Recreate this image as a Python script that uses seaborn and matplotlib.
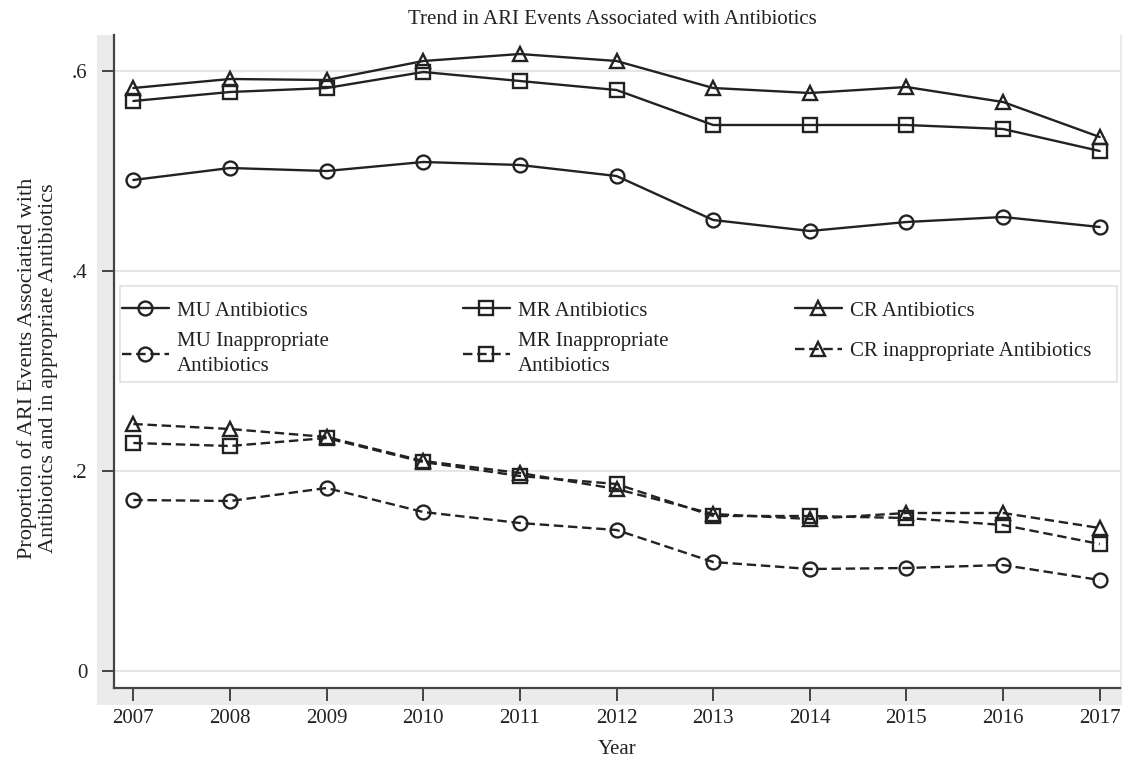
import matplotlib
matplotlib.use("Agg")
import matplotlib.pyplot as plt
from matplotlib.patches import Rectangle
from matplotlib.legend import Legend
from matplotlib.ticker import FixedLocator, FixedFormatter
import seaborn as sns
import pandas as pd

years = [2007, 2008, 2009, 2010, 2011, 2012, 2013, 2014, 2015, 2016, 2017]

mu_abx = [0.491, 0.503, 0.500, 0.509, 0.506, 0.495, 0.451, 0.440, 0.449, 0.454, 0.444]
mr_abx = [0.570, 0.579, 0.583, 0.599, 0.590, 0.581, 0.546, 0.546, 0.546, 0.542, 0.520]
cr_abx = [0.583, 0.592, 0.591, 0.610, 0.617, 0.610, 0.583, 0.578, 0.584, 0.569, 0.534]

mu_inapp = [0.171, 0.170, 0.183, 0.159, 0.148, 0.141, 0.109, 0.102, 0.103, 0.106, 0.091]
mr_inapp = [0.228, 0.225, 0.233, 0.209, 0.195, 0.187, 0.155, 0.155, 0.153, 0.146, 0.127]
cr_inapp = [0.247, 0.242, 0.234, 0.210, 0.198, 0.182, 0.157, 0.152, 0.158, 0.158, 0.143]

labels = [
    "MU Antibiotics", "MR Antibiotics", "CR Antibiotics",
    "MU Inappropriate\nAntibiotics", "MR Inappropriate\nAntibiotics",
    "CR inappropriate Antibiotics",
]
y_ticks = [0, 0.2, 0.4, 0.6]
y_tick_labels = ["0", ".2", ".4", ".6"]

sns.set_theme(style="white")
plt.rcParams["font.family"] = ["Liberation Serif", "DejaVu Serif"]

W, H = 1125, 760
fig = plt.figure(figsize=(W / 100, H / 100), dpi=100)
fig.patch.set_facecolor("white")

# light grey plot region behind the white axes
bg = fig.add_axes([97 / W, 1 - 705 / H, (1122 - 97) / W, (705 - 35) / H])
bg.set_facecolor("#ebebeb")
bg.set_xticks([])
bg.set_yticks([])
for s in bg.spines.values():
    s.set_visible(False)
bg.set_zorder(0)

AX_L, AX_R, AX_T, AX_B = 114, 1120, 35, 688
ax = fig.add_axes([AX_L / W, 1 - AX_B / H, (AX_R - AX_L) / W, (AX_B - AX_T) / H])
ax.set_zorder(1)
ax.set_facecolor("white")


def px_to_ax(x, y):
    return (x - AX_L) / (AX_R - AX_L), (AX_B - y) / (AX_B - AX_T)


ink = "#222222"
dash = (0, (4, 2))
series = [
    (mu_abx, "o", "-"), (mr_abx, "s", "-"), (cr_abx, "^", "-"),
    (mu_inapp, "o", dash), (mr_inapp, "s", dash), (cr_inapp, "^", dash),
]
handles = []
for (vals, mk, ls), lab in zip(series, labels):
    df = pd.DataFrame({"Year": years, "value": vals})
    sns.lineplot(data=df, x="Year", y="value", ax=ax, color=ink, linewidth=1.7,
                 linestyle=ls, marker=mk, markersize=10 if mk != "s" else 9.5,
                 markerfacecolor="none", markeredgecolor=ink, markeredgewidth=1.7,
                 label=lab, legend=False, zorder=3)
    handles.append(ax.lines[-1])

ax.set_xlim(2006.80, 2017.21)
ax.set_ylim(-0.017, 0.636)
ax.set_xticks(years)
ax.set_xticklabels([str(y) for y in years])
ax.yaxis.set_major_locator(FixedLocator(y_ticks))
ax.yaxis.set_major_formatter(FixedFormatter(y_tick_labels))
for yv in y_ticks:
    ax.axhline(yv, color="#e6e6e6", linewidth=1.5, zorder=1)

for side in ["top", "right"]:
    ax.spines[side].set_visible(False)
for side in ["left", "bottom"]:
    ax.spines[side].set_color("#444444")
    ax.spines[side].set_linewidth(1.6)

ax.tick_params(axis="both", which="major", direction="out", length=9, width=1.4,
               color="#444444", labelsize=15, labelcolor="#222222", pad=10)
ax.tick_params(axis="x", pad=6)
ax.tick_params(left=True, bottom=True)

ax.set_xlabel("Year", fontsize=15, color="#222222", labelpad=9)
ax.set_ylabel("Proportion of ARI Events Associatied with\nAntibiotics and in appropriate Antibiotics",
              fontsize=16, color="#222222", linespacing=1.1)
ax.yaxis.set_label_coords(-0.056, 0.49)

fig.text(612 / W, 1 - 20 / H, "Trend in ARI Events Associated with Antibiotics",
         ha="center", va="center", fontsize=15, color="#222222")

# legend frame
fx0, fy0 = px_to_ax(120, 382)
fx1, fy1 = px_to_ax(1117, 286)
ax.add_patch(Rectangle((fx0, fy0), fx1 - fx0, fy1 - fy0, transform=ax.transAxes,
                       facecolor="white", edgecolor="#e0e0e0", linewidth=1.2, zorder=4))

# one legend per column: (handle indices, left x, label spacing)
columns = [([0, 3], 122, 0.55), ([1, 4], 463, 0.55), ([2, 5], 795, 1.0)]
for idx, x_left, spacing in columns:
    anchor = px_to_ax(x_left, 301)
    leg = Legend(ax, [handles[i] for i in idx], [labels[i] for i in idx],
                 loc="upper left", bbox_to_anchor=anchor, bbox_transform=ax.transAxes,
                 frameon=False, fontsize=15, handlelength=2.25, handletextpad=0.4,
                 labelspacing=spacing, borderpad=0, borderaxespad=0)
    for t in leg.get_texts():
        t.set_linespacing(1.45)
        t.set_color("#222222")
    leg.set_zorder(5)
    ax.add_artist(leg)

fig.savefig("out.png", dpi=100, facecolor="white")
